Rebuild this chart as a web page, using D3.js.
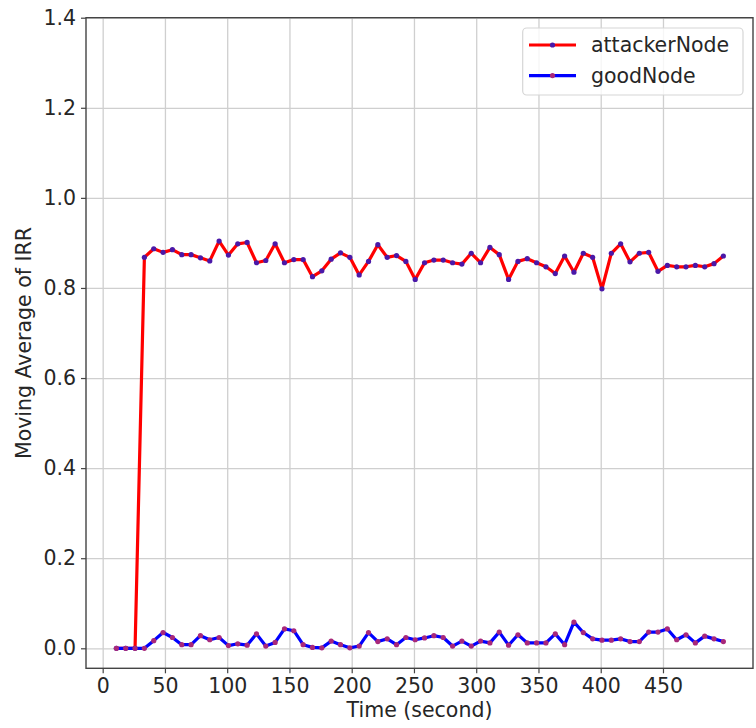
<!DOCTYPE html>
<html>
<head>
<meta charset="utf-8">
<script src="https://cdn.jsdelivr.net/npm/d3@7"></script>
<style>
  html, body { margin: 0; padding: 0; background: #ffffff; }
  svg { display: block; }
  text { font-family: "DejaVu Sans", sans-serif; fill: #262626; }
</style>
</head>
<body>
<svg id="chart" width="756" height="728"></svg>
<script>
// Sample times (seconds) of the moving-average windows
const times = [
  11, 18.5, 26, 33.5, 41, 48.5, 56, 63.5, 71, 78.5,
  86, 93.5, 101, 108.5, 116, 123.5, 131, 138.5, 146, 153.5,
  161, 168.5, 176, 183.5, 191, 198.5, 206, 213.5, 221, 228.5,
  236, 243.5, 251, 258.5, 266, 273.5, 281, 288.5, 296, 303.5,
  311, 318.5, 326, 333.5, 341, 348.5, 356, 363.5, 371, 378.5,
  386, 393.5, 401, 408.5, 416, 423.5, 431, 438.5, 446, 453.5,
  461, 468.5, 476, 483.5, 491, 498.5
];

// Moving average of IRR for the attacker node
const attackerNode = [
  0, 0, 0, 0.868, 0.887, 0.879, 0.885, 0.874, 0.874, 0.867,
  0.860, 0.904, 0.873, 0.898, 0.901, 0.856, 0.861, 0.898, 0.856, 0.863,
  0.863, 0.825, 0.838, 0.864, 0.878, 0.868, 0.829, 0.859, 0.896, 0.868,
  0.872, 0.859, 0.819, 0.856, 0.862, 0.862, 0.856, 0.853, 0.877, 0.856,
  0.890, 0.874, 0.819, 0.859, 0.865, 0.856, 0.847, 0.832, 0.871, 0.835,
  0.877, 0.868, 0.798, 0.877, 0.898, 0.858, 0.877, 0.879, 0.837, 0.850,
  0.847, 0.847, 0.850, 0.847, 0.854, 0.871
];

// Moving average of IRR for the good node
const goodNode = [
  0, 0, 0, 0, 0.017, 0.035, 0.024, 0.008, 0.008, 0.028,
  0.019, 0.024, 0.006, 0.010, 0.007, 0.032, 0.005, 0.013, 0.043, 0.039,
  0.008, 0.002, 0.001, 0.016, 0.008, 0.001, 0.005, 0.035, 0.015, 0.021,
  0.008, 0.024, 0.019, 0.023, 0.028, 0.024, 0.005, 0.016, 0.005, 0.016,
  0.012, 0.036, 0.007, 0.030, 0.012, 0.012, 0.012, 0.032, 0.008, 0.058,
  0.035, 0.021, 0.018, 0.018, 0.021, 0.015, 0.015, 0.036, 0.036, 0.043,
  0.019, 0.030, 0.012, 0.027, 0.021, 0.015
];

const xTicks = [0, 50, 100, 150, 200, 250, 300, 350, 400, 450];
const yTicks = [0.0, 0.2, 0.4, 0.6, 0.8, 1.0, 1.2, 1.4];

const seriesList = [
  { name: "attackerNode", values: attackerNode, color: "#ff0000", marker: "#4a18a8" },
  { name: "goodNode", values: goodNode, color: "#0000ff", marker: "#a8287a" }
];

const plot = { left: 86, right: 753, top: 17.7, bottom: 668.3 };
const fontSize = 20.5;

const svg = d3.select("#chart");

const x = d3.scaleLinear().domain([-13.4, 522.3]).range([plot.left, plot.right]);
const y = d3.scaleLinear().domain([-0.0444, 1.4]).range([plot.bottom, plot.top]);

// Grid lines
svg.append("g")
  .attr("transform", `translate(0,${plot.bottom})`)
  .call(d3.axisBottom(x).tickValues(xTicks).tickSize(-(plot.bottom - plot.top)).tickFormat(""))
  .call(g => g.select(".domain").remove())
  .call(g => g.selectAll("line").attr("stroke", "#cfcfcf").attr("stroke-width", 1.3));

svg.append("g")
  .attr("transform", `translate(${plot.left},0)`)
  .call(d3.axisLeft(y).tickValues(yTicks).tickSize(-(plot.right - plot.left)).tickFormat(""))
  .call(g => g.select(".domain").remove())
  .call(g => g.selectAll("line").attr("stroke", "#cfcfcf").attr("stroke-width", 1.3));

// Series lines and markers
const line = d3.line()
  .x((d, i) => x(times[i]))
  .y(d => y(d));

seriesList.forEach(s => {
  svg.append("path")
    .datum(s.values)
    .attr("fill", "none")
    .attr("stroke", s.color)
    .attr("stroke-width", 3.2)
    .attr("stroke-linejoin", "round")
    .attr("d", line);

  svg.append("g")
    .selectAll("circle")
    .data(s.values)
    .join("circle")
    .attr("cx", (d, i) => x(times[i]))
    .attr("cy", d => y(d))
    .attr("r", 2.6)
    .attr("fill", s.marker);
});

// Axes
const xAxis = svg.append("g")
  .attr("transform", `translate(0,${plot.bottom})`)
  .call(d3.axisBottom(x).tickValues(xTicks).tickSize(5).tickPadding(5).tickFormat(d3.format("d")));

const yAxis = svg.append("g")
  .attr("transform", `translate(${plot.left},0)`)
  .call(d3.axisLeft(y).tickValues(yTicks).tickSize(5).tickPadding(5).tickFormat(d3.format(".1f")));

[xAxis, yAxis].forEach(a => {
  a.select(".domain").remove();
  a.selectAll("line").attr("stroke", "#444").attr("stroke-width", 1.2);
  a.selectAll("text")
    .attr("font-family", "DejaVu Sans, sans-serif")
    .attr("font-size", fontSize)
    .attr("fill", "#262626");
});

// Frame
svg.append("rect")
  .attr("x", plot.left)
  .attr("y", plot.top)
  .attr("width", plot.right - plot.left)
  .attr("height", plot.bottom - plot.top)
  .attr("fill", "none")
  .attr("stroke", "#444")
  .attr("stroke-width", 1.4);

// Axis titles
svg.append("text")
  .attr("x", (plot.left + plot.right) / 2)
  .attr("y", 717)
  .attr("text-anchor", "middle")
  .attr("font-size", fontSize)
  .text("Time (second)");

svg.append("text")
  .attr("transform", `translate(31,${(plot.top + plot.bottom) / 2}) rotate(-90)`)
  .attr("text-anchor", "middle")
  .attr("font-size", fontSize)
  .text("Moving Average of IRR");

// Legend
const legend = svg.append("g");
legend.append("rect")
  .attr("x", 522.7)
  .attr("y", 28)
  .attr("width", 220.3)
  .attr("height", 67)
  .attr("rx", 4)
  .attr("fill", "#ffffff")
  .attr("fill-opacity", 0.8)
  .attr("stroke", "#d6d6d6")
  .attr("stroke-width", 1.2);

seriesList.forEach((s, i) => {
  const ly = 45 + i * 30.6;
  legend.append("line")
    .attr("x1", 529).attr("x2", 576)
    .attr("y1", ly).attr("y2", ly)
    .attr("stroke", s.color)
    .attr("stroke-width", 3.2);
  legend.append("circle")
    .attr("cx", 552.5).attr("cy", ly).attr("r", 2.6)
    .attr("fill", s.marker);
  legend.append("text")
    .attr("x", 591)
    .attr("y", ly + 7.4)
    .attr("font-size", fontSize)
    .text(s.name);
});
</script>
</body>
</html>
